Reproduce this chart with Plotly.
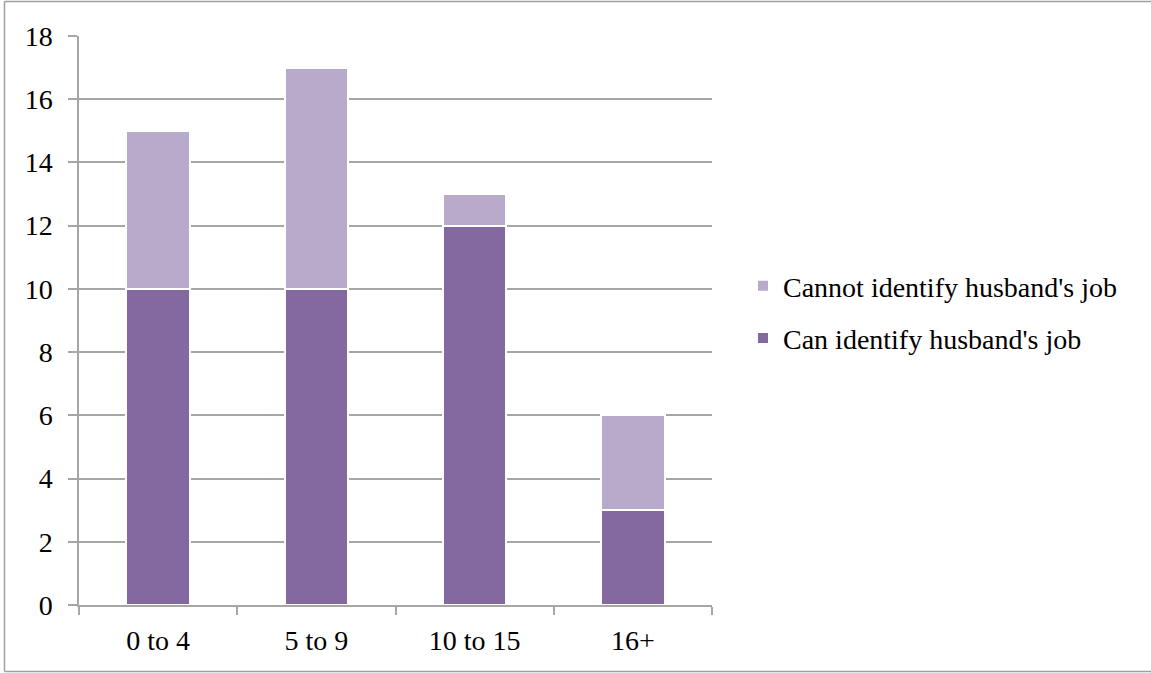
import plotly.graph_objects as go

# Years of marriage groups and counts per group
categories = ["0 to 4", "5 to 9", "10 to 15", "16+"]
can_identify = [10, 10, 12, 3]
cannot_identify = [5, 7, 1, 3]

y_ticks = [0, 2, 4, 6, 8, 10, 12, 14, 16, 18]

W, H = 1151, 673
L, R, T, B = 79, 439, 36, 68
FONT = "Liberation Serif"
FSIZE = 28
GRID = "#A6A6A6"
FRAME = "#A0A0A0"

fig = go.Figure()
fig.add_trace(go.Bar(
    x=categories, y=can_identify, name="Can identify husband's job",
    marker=dict(color="#8469A0", line=dict(color="white", width=2)),
    width=0.4, legendgroup="can", legendrank=2,
))
fig.add_trace(go.Bar(
    x=categories, y=cannot_identify, name="Cannot identify husband's job",
    marker=dict(color="#B8AACB", line=dict(color="white", width=2)),
    width=0.4, legendgroup="cannot", legendrank=1,
))

# outer frame (left, top, bottom edges), in paper coordinates
pw, ph = W - L - R, H - T - B
def px_x(p):
    return (p - L) / pw
def px_y(p):
    return (H - B - p) / ph

for x0, y0, x1, y1 in [(4.5, 1.5, 4.5, 671.5),
                       (4.5, 1.5, W + 5, 1.5),
                       (4.5, 671.5, W + 5, 671.5)]:
    fig.add_shape(type="line", xref="paper", yref="paper",
                  x0=px_x(x0), x1=px_x(x1), y0=px_y(y0), y1=px_y(y1),
                  line=dict(color=FRAME, width=1.5), layer="below")

fig.update_layout(
    width=W, height=H,
    margin=dict(l=L, r=R, t=T, b=B),
    barmode="stack",
    bargap=0.6,
    paper_bgcolor="white",
    plot_bgcolor="white",
    font=dict(family=FONT, size=FSIZE, color="black"),
    showlegend=True,
    legend=dict(
        x=px_x(743), xanchor="left",
        y=px_y(312), yanchor="middle",
        traceorder="grouped",
        tracegroupgap=13,
        font=dict(family=FONT, size=FSIZE, color="black"),
        itemwidth=30,
    ),
    xaxis=dict(
        showline=True, linecolor=GRID, linewidth=1.5,
        ticks="outside", tickson="boundaries", ticklen=8, tickcolor=GRID,
        tickwidth=1.5,
        showgrid=False,
        ticklabelstandoff=10,
    ),
    yaxis=dict(
        range=[0, 18], tickvals=y_ticks,
        showline=True, linecolor=GRID, linewidth=1.5,
        ticks="outside", ticklen=9, tickcolor=GRID, tickwidth=1.5,
        showgrid=True, gridcolor=GRID, gridwidth=1.5,
        zeroline=False,
        ticklabelstandoff=10,
    ),
)

fig.write_html("out.html")
